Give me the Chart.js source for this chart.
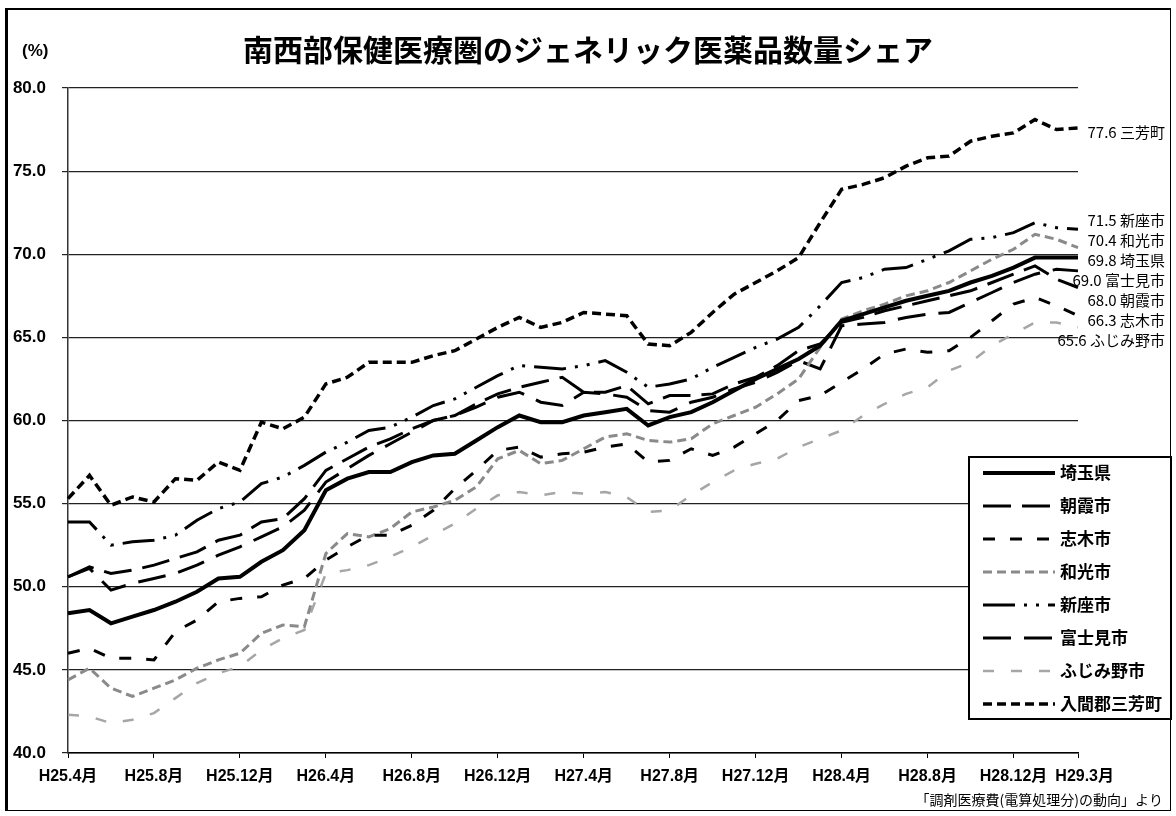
<!DOCTYPE html>
<html lang="ja">
<head>
<meta charset="utf-8">
<title>南西部保健医療圏のジェネリック医薬品数量シェア</title>
<script src="https://cdn.jsdelivr.net/npm/chart.js@4.4.1/dist/chart.umd.min.js"></script>
<style>
    html, body { margin: 0; padding: 0; background: #fff; }
    #wrap { position: relative; width: 1176px; height: 816px; }
    #wrap canvas { position: absolute; left: 0; top: 0; }
    #frame {
        position: absolute; left: 5px; top: 8px; width: 1166px; height: 803px;
        border: 1px solid #000; border-left: 3px solid #000; border-top: 2px solid #000; box-sizing: border-box;
        pointer-events: none;
    }
</style>
</head>
<body>
<div id="wrap">
    <canvas id="chart-share" width="1176" height="816"></canvas>
    <div id="frame"></div>
</div>
<script>
// 月（H25.4月〜H29.3月）
const months = [
    'H25.4月', 'H25.5月', 'H25.6月', 'H25.7月', 'H25.8月', 'H25.9月', 'H25.10月', 'H25.11月', 'H25.12月',
    'H26.1月', 'H26.2月', 'H26.3月', 'H26.4月', 'H26.5月', 'H26.6月', 'H26.7月', 'H26.8月', 'H26.9月',
    'H26.10月', 'H26.11月', 'H26.12月', 'H27.1月', 'H27.2月', 'H27.3月', 'H27.4月', 'H27.5月', 'H27.6月',
    'H27.7月', 'H27.8月', 'H27.9月', 'H27.10月', 'H27.11月', 'H27.12月', 'H28.1月', 'H28.2月', 'H28.3月',
    'H28.4月', 'H28.5月', 'H28.6月', 'H28.7月', 'H28.8月', 'H28.9月', 'H28.10月', 'H28.11月', 'H28.12月',
    'H29.1月', 'H29.2月', 'H29.3月'
];

// 数量シェア（%）
const saitama = [48.4, 48.6, 47.8, 48.2, 48.6, 49.1, 49.7, 50.5, 50.6, 51.5, 52.2, 53.4, 55.8, 56.5, 56.9, 56.9,
    57.5, 57.9, 58.0, 58.8, 59.6, 60.3, 59.9, 59.9, 60.3, 60.5, 60.7, 59.7, 60.2, 60.5, 61.1, 61.8,
    62.5, 63.1, 63.7, 64.5, 66.0, 66.4, 66.8, 67.2, 67.5, 67.8, 68.3, 68.7, 69.2, 69.8, 69.8, 69.8];
const asaka = [50.6, 51.2, 50.8, 51.0, 51.3, 51.7, 52.1, 52.8, 53.1, 53.9, 54.1, 55.3, 57.0, 57.7, 58.4, 58.9,
    59.5, 60.0, 60.3, 61.0, 61.6, 62.0, 62.3, 62.6, 61.7, 61.7, 62.1, 61.0, 61.5, 61.5, 61.6, 62.2,
    62.6, 63.3, 64.2, 64.6, 65.9, 66.2, 66.6, 66.9, 67.2, 67.5, 67.8, 68.3, 68.8, 69.3, 68.5, 68.0];
const shiki = [46.0, 46.3, 45.7, 45.7, 45.6, 47.3, 48.0, 49.1, 49.3, 49.4, 50.1, 50.5, 51.6, 52.4, 53.1, 53.1,
    53.7, 54.6, 55.9, 57.0, 58.2, 58.4, 57.8, 58.0, 58.1, 58.4, 58.6, 57.5, 57.6, 58.3, 57.9, 58.4,
    59.2, 60.0, 61.2, 61.5, 62.3, 63.1, 64.0, 64.3, 64.1, 64.2, 65.0, 66.0, 67.0, 67.4, 66.9, 66.3];
const wako = [44.4, 45.1, 43.9, 43.4, 43.9, 44.4, 45.1, 45.6, 46.0, 47.2, 47.7, 47.6, 52.0, 53.2, 53.0, 53.5,
    54.5, 54.8, 55.2, 56.0, 57.7, 58.2, 57.4, 57.6, 58.3, 59.0, 59.2, 58.8, 58.7, 58.9, 59.8, 60.3,
    60.8, 61.6, 62.5, 64.4, 66.1, 66.6, 67.0, 67.5, 67.8, 68.3, 69.0, 69.7, 70.3, 71.2, 70.9, 70.4];
const niiza = [53.9, 53.9, 52.5, 52.7, 52.8, 53.1, 54.0, 54.7, 55.1, 56.2, 56.6, 57.3, 58.1, 58.7, 59.4, 59.6,
    60.2, 60.9, 61.3, 62.0, 62.7, 63.3, 63.2, 63.1, 63.3, 63.6, 62.9, 62.0, 62.2, 62.5, 63.2, 63.8,
    64.4, 64.9, 65.6, 66.9, 68.3, 68.6, 69.1, 69.2, 69.7, 70.2, 70.9, 71.0, 71.3, 71.9, 71.6, 71.5];
const fujimi = [50.6, 51.1, 49.8, 50.2, 50.5, 50.8, 51.3, 51.9, 52.4, 53.0, 53.6, 54.6, 56.3, 57.1, 57.9, 58.6,
    59.3, 60.0, 60.3, 60.8, 61.4, 61.7, 61.1, 60.9, 61.7, 61.6, 61.4, 60.6, 60.5, 61.1, 61.4, 61.9,
    62.3, 62.9, 63.6, 63.1, 65.7, 65.8, 65.9, 66.2, 66.4, 66.5, 67.1, 67.7, 68.3, 68.8, 69.1, 69.0];
const fujimino = [42.3, 42.2, 41.8, 42.0, 42.4, 43.3, 44.2, 44.8, 45.2, 46.2, 46.9, 47.4, 50.8, 51.0, 51.3, 51.8,
    52.4, 53.1, 53.8, 54.7, 55.5, 55.7, 55.5, 55.7, 55.6, 55.7, 55.4, 54.5, 54.6, 55.5, 56.3, 57.0,
    57.4, 57.7, 58.4, 58.9, 59.4, 60.3, 61.0, 61.6, 62.0, 63.0, 63.5, 64.5, 65.2, 65.9, 65.9, 65.6];
const miyoshi = [55.3, 56.7, 54.9, 55.4, 55.1, 56.5, 56.4, 57.5, 57.0, 59.9, 59.5, 60.2, 62.2, 62.6, 63.5, 63.5,
    63.5, 63.9, 64.2, 64.9, 65.6, 66.2, 65.6, 65.9, 66.5, 66.4, 66.3, 64.6, 64.5, 65.3, 66.5, 67.6,
    68.3, 69.0, 69.8, 71.9, 73.9, 74.2, 74.6, 75.3, 75.8, 75.9, 76.8, 77.1, 77.3, 78.1, 77.5, 77.6];

// 凡例名と右端ラベル名
const seriesNames = ['埼玉県', '朝霞市', '志木市', '和光市', '新座市', '富士見市', 'ふじみ野市', '入間郡三芳町'];
const endNames = ['埼玉県', '朝霞市', '志木市', '和光市', '新座市', '富士見市', 'ふじみ野市', '三芳町'];
const yTicks = [40, 45, 50, 55, 60, 65, 70, 75, 80];

const titleText = '南西部保健医療圏のジェネリック医薬品数量シェア';
const sourceText = '「調剤医療費(電算処理分)の動向」より';

const seriesValues = [saitama, asaka, shiki, wako, niiza, fujimi, fujimino, miyoshi];
const styles = [
    { color: '#000', width: 4, dash: [] },                       // 埼玉県
    { color: '#000', width: 3, dash: [28, 11] },                 // 朝霞市
    { color: '#000', width: 3, dash: [12, 15] },                 // 志木市
    { color: '#8a8a8a', width: 3, dash: [9, 5] },                // 和光市
    { color: '#000', width: 3, dash: [32, 9, 3, 9, 3, 9] },      // 新座市
    { color: '#000', width: 3, dash: [28, 13] },                 // 富士見市
    { color: '#a6a6a6', width: 2.5, dash: [11, 17] },            // ふじみ野市
    { color: '#000', width: 3.5, dash: [9, 5] }                  // 入間郡三芳町
];

const datasets = seriesValues.map(function (values, index) {
    return {
        label: seriesNames[index],
        data: values,
        borderColor: styles[index].color,
        backgroundColor: styles[index].color,
        borderWidth: styles[index].width,
        borderDash: styles[index].dash,
        pointRadius: 0,
        tension: 0,
        fill: false
    };
});

// タイトル・凡例・右端ラベル・出典を描くプラグイン
const decorPlugin = {
    id: 'decor',
    afterDraw(chart) {
        const ctx = chart.ctx;
        const yScale = chart.scales.y;
        ctx.save();
        ctx.fillStyle = '#000';

        // タイトル
        ctx.font = 'bold 30px "Noto Sans CJK JP"';
        ctx.textAlign = 'center';
        ctx.textBaseline = 'middle';
        ctx.fillText(titleText, 588, 50);

        // 単位
        ctx.font = 'bold 17px "Liberation Sans", "Noto Sans CJK JP"';
        ctx.textAlign = 'left';
        ctx.fillText('(%)', 22, 51);

        // 右端ラベル（重ならないようにずらす）
        const labels = chart.data.datasets.map(function (ds, i) {
            const last = ds.data[ds.data.length - 1];
            return { text: last.toFixed(1) + ' ' + endNames[i], y: yScale.getPixelForValue(last) };
        });
        labels.sort(function (a, b) { return a.y - b.y; });
        for (let k = 0; k < 60; k++) {
            for (let i = 1; i < labels.length; i++) {
                const gap = labels[i].y - labels[i - 1].y;
                if (gap < 20) {
                    const d = (20 - gap) / 2;
                    labels[i].y += d;
                    labels[i - 1].y -= d;
                }
            }
        }
        ctx.font = '15px "Noto Sans CJK JP"';
        ctx.textAlign = 'right';
        labels.forEach(function (l) {
            ctx.fillText(l.text, 1165, l.y + 4);
        });

        // 凡例
        const box = { left: 969, top: 457, right: 1171, bottom: 719 };
        ctx.fillStyle = '#fff';
        ctx.fillRect(box.left, box.top, box.right - box.left, box.bottom - box.top);
        ctx.strokeStyle = '#000';
        ctx.lineWidth = 2;
        ctx.setLineDash([]);
        ctx.strokeRect(box.left, box.top, box.right - box.left, box.bottom - box.top);
        ctx.font = 'bold 17px "Noto Sans CJK JP"';
        ctx.textAlign = 'left';
        chart.data.datasets.forEach(function (ds, i) {
            const rowY = 473 + i * 33;
            ctx.beginPath();
            ctx.strokeStyle = ds.borderColor;
            ctx.lineWidth = ds.borderWidth;
            ctx.setLineDash(ds.borderDash);
            ctx.moveTo(983, rowY);
            ctx.lineTo(1055, rowY);
            ctx.stroke();
            ctx.setLineDash([]);
            ctx.fillStyle = '#000';
            ctx.fillText(ds.label, 1060, rowY);
        });

        // 出典
        ctx.font = '14px "Noto Sans CJK JP"';
        ctx.textAlign = 'right';
        ctx.fillText(sourceText, 1163, 800);
        ctx.restore();
    }
};

const options = {
    responsive: false,
    animation: false,
    layout: { padding: { left: 6, right: 98, top: 88, bottom: 20 } },
    scales: {
        x: {
            type: 'category',
            offset: false,
            afterFit: function (scale) { scale.height = 43; },
            grid: {
                display: true,
                drawOnChartArea: false,
                drawTicks: true,
                tickLength: 5,
                color: function (c) {
                    return (c.index % 4 === 0 || c.index === months.length - 1) ? '#000' : 'rgba(0,0,0,0)';
                }
            },
            border: { display: true, color: '#000', width: 1.5 },
            ticks: {
                autoSkip: false,
                maxRotation: 0,
                minRotation: 0,
                padding: 9,
                color: '#000',
                font: { family: '"Liberation Sans", "Noto Sans CJK JP"', size: 16, weight: 'bold' },
                callback: function (value, index) {
                    if (index === months.length - 1) {
                        return '   ' + months[index];   // 直前のラベルと重ならないよう少し右へ
                    }
                    return (index % 4 === 0) ? months[index] : '';
                }
            }
        },
        y: {
            min: 40,
            max: 80,
            afterFit: function (scale) { scale.width = 62; },
            afterBuildTicks: function (scale) {
                scale.ticks = yTicks.map(function (v) { return { value: v }; });
            },
            grid: { color: '#222', lineWidth: 1.2, tickLength: 6, drawTicks: true },
            border: { display: true, color: '#333', width: 1.5 },
            ticks: {
                padding: 16,
                color: '#000',
                font: { family: '"Liberation Sans", "Noto Sans CJK JP"', size: 17, weight: 'bold' },
                callback: function (value) { return value.toFixed(1); }
            }
        }
    },
    plugins: {
        legend: { display: false },
        title: { display: false },
        tooltip: { enabled: false }
    }
};

const ctx = document.getElementById('chart-share').getContext('2d');
const chart = new Chart(ctx, {
    type: 'line',
    data: { labels: months, datasets: datasets },
    options: options,
    plugins: [decorPlugin]
});
</script>
</body>
</html>
